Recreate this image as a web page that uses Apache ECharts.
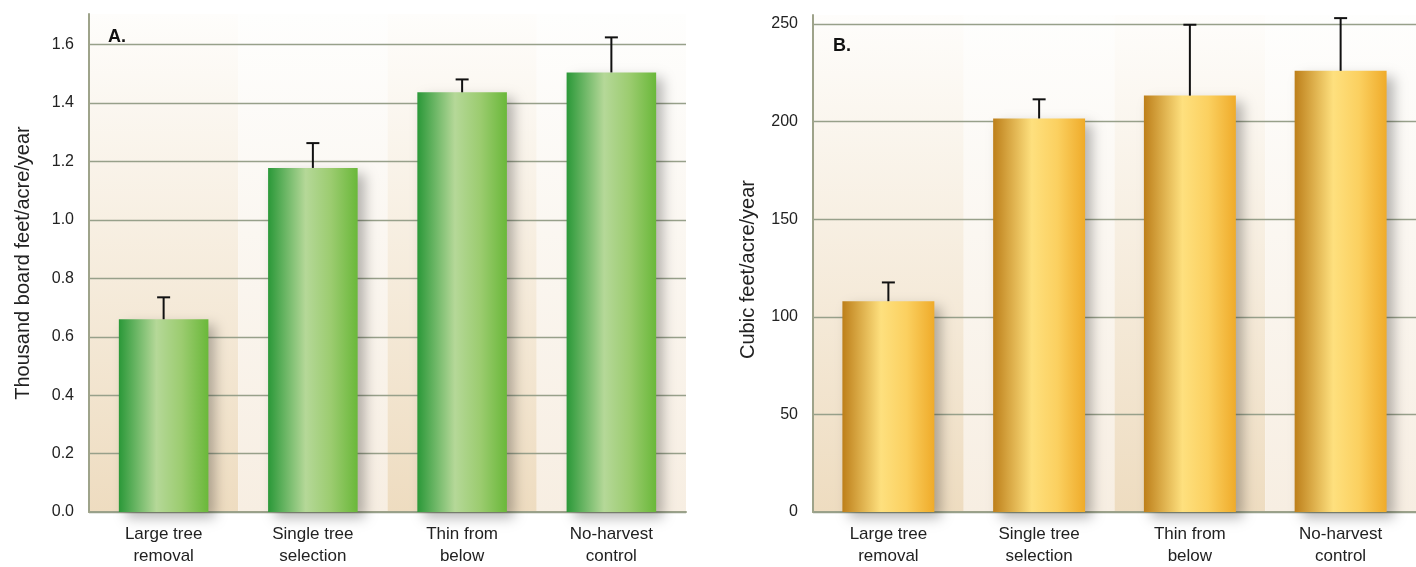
<!DOCTYPE html>
<html>
<head>
<meta charset="utf-8">
<script src="https://cdn.jsdelivr.net/npm/echarts@6/dist/echarts.min.js"></script>
<style>
html,body{margin:0;padding:0;background:#fff;overflow:hidden;}
#c{width:1416px;height:567px;}
</style>
</head>
<body>
<div id="c"></div>
<script>
// ---- data ----
var categories = ['Large tree\nremoval', 'Single tree\nselection', 'Thin from\nbelow', 'No-harvest\ncontrol'];
var boardFeet = [0.66, 1.178, 1.437, 1.505];
var boardFeetErr = [0.075, 0.085, 0.044, 0.12];
var cubicFeet = [108, 201.6, 213.3, 226];
var cubicFeetErr = [9.6, 9.8, 36.3, 27];
var boardTicks = { min: 0, max: 1.705, interval: 0.2 };
var cubicTicks = { min: 0, max: 254.6, interval: 50 };

var FONT = '"Liberation Sans", Arial, sans-serif';

function vgrad(stops) {
  return { type: 'linear', x: 0, y: 0, x2: 0, y2: 1, colorStops: stops };
}
function hgrad(stops) {
  return { type: 'linear', x: 0, y: 0, x2: 1, y2: 0, colorStops: stops };
}
var bandDark = vgrad([{offset: 0, color: '#fefdfb'}, {offset: 1, color: '#eedcc0'}]);
var bandLight = vgrad([{offset: 0, color: '#fefefd'}, {offset: 1, color: '#f7eee2'}]);

var greenBar = hgrad([
  {offset: 0, color: '#2a9838'}, {offset: 0.42, color: '#b5d898'},
  {offset: 0.7, color: '#9ccc70'}, {offset: 1, color: '#6ab83a'}]);
var goldBar = hgrad([
  {offset: 0, color: '#bd7f1a'}, {offset: 0.42, color: '#fee07e'},
  {offset: 0.7, color: '#fbd060'}, {offset: 1, color: '#efab2a'}]);

function errData(vals, errs) {
  return vals.map(function (v, i) { return [i, v, v + errs[i]]; });
}

function renderErr(params, api) {
  var x = api.value(0);
  var p0 = api.coord([x, api.value(1)]);
  var p1 = api.coord([x, api.value(2)]);
  var style = { stroke: '#111', lineWidth: 2 };
  return {
    type: 'group',
    children: [
      { type: 'line', shape: { x1: p0[0], y1: p0[1], x2: p1[0], y2: p1[1] }, style: style },
      { type: 'line', shape: { x1: p1[0] - 6.5, y1: p1[1], x2: p1[0] + 6.5, y2: p1[1] }, style: style }
    ]
  };
}

function xAxisFor(gi) {
  return {
    type: 'category', gridIndex: gi, data: categories,
    axisLine: { show: true, lineStyle: { color: '#9ea38a', width: 2 } },
    axisTick: { show: false },
    axisLabel: { color: '#222', fontFamily: FONT, fontSize: 17, lineHeight: 22, margin: 11 },
    splitArea: { show: true, areaStyle: { color: [bandDark, bandLight] } },
    z: 1
  };
}
function yAxisFor(gi, t, name, fmt, nameGap, namePad) {
  return {
    type: 'value', gridIndex: gi, min: t.min, max: t.max, interval: t.interval,
    name: name, nameLocation: 'middle', nameGap: nameGap, nameRotate: 90,
    nameTextStyle: { color: '#222', fontFamily: FONT, fontSize: 20, padding: namePad },
    axisLine: { show: true, lineStyle: { color: '#9ea38a', width: 2 } },
    axisTick: { show: false },
    axisLabel: { color: '#222', fontFamily: FONT, fontSize: 16, margin: 15, showMaxLabel: false,
      formatter: fmt },
    splitLine: { show: true, showMaxLine: false, lineStyle: { color: '#97a08a', width: 1.3 } },
    z: 2
  };
}

var barShadow = { shadowBlur: 12, shadowOffsetX: 7, shadowOffsetY: 6, shadowColor: 'rgba(0,0,0,0.28)' };

var option = {
  backgroundColor: '#ffffff',
  animation: false,
  grid: [
    { left: 89, right: 730, top: 14, bottom: 52 },
    { left: 813, right: 0, top: 15, bottom: 52 }
  ],
  title: [
    { text: 'A.', left: 103, top: 23, textStyle: { fontFamily: FONT, fontSize: 18, fontWeight: 'bold', color: '#111' } },
    { text: 'B.', left: 828, top: 32, textStyle: { fontFamily: FONT, fontSize: 18, fontWeight: 'bold', color: '#111' } }
  ],
  xAxis: [xAxisFor(0), xAxisFor(1)],
  yAxis: [
    yAxisFor(0, boardTicks, 'Thousand board feet/acre/year', function (v) { return v.toFixed(1); }, 56, 0),
    yAxisFor(1, cubicTicks, 'Cubic feet/acre/year', function (v) { return String(v); }, 55, [0, 12, 0, 0])
  ],
  series: [
    { type: 'bar', xAxisIndex: 0, yAxisIndex: 0, data: boardFeet, barWidth: '60%',
      itemStyle: Object.assign({ color: greenBar }, barShadow), z: 4 },
    { type: 'custom', xAxisIndex: 0, yAxisIndex: 0, data: errData(boardFeet, boardFeetErr),
      renderItem: renderErr, z: 5 },
    { type: 'bar', xAxisIndex: 1, yAxisIndex: 1, data: cubicFeet, barWidth: '61%',
      itemStyle: Object.assign({ color: goldBar }, barShadow), z: 4 },
    { type: 'custom', xAxisIndex: 1, yAxisIndex: 1, data: errData(cubicFeet, cubicFeetErr),
      renderItem: renderErr, z: 5 }
  ]
};

var chart = echarts.init(document.getElementById('c'), null, { renderer: 'canvas' });
chart.setOption(option);
</script>
</body>
</html>
